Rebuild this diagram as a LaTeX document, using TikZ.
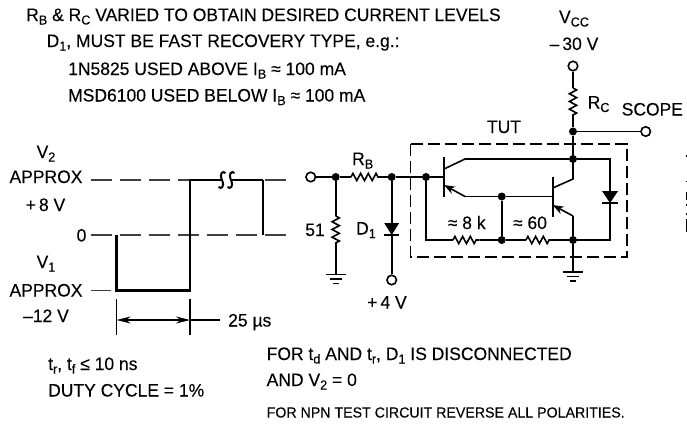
\documentclass[tikz,border=0pt]{standalone}
\usepackage{fontspec}
\setmainfont[FakeStretch=0.972,FakeBold=0.12]{Liberation Sans}
\usetikzlibrary{calc, arrows.meta, decorations.pathmorphing}
\newcommand{\dn}[1]{\raisebox{-3.5pt}{\fontsize{13}{13}\selectfont #1}}
\newcommand{\gndbars}[1]{
  \draw[wire] ($(#1)+(-10,0)$) -- ($(#1)+(10,0)$);
  \draw[wire] ($(#1)+(-6,4.5)$) -- ($(#1)+(6,4.5)$);
  \draw[wire] ($(#1)+(-3,9)$) -- ($(#1)+(3,9)$);
}
\newcommand{\brk}[1]{
  \draw[line width=2pt] ($(#1)+(3.5,-7)$) .. controls ($(#1)+(1,-9.5)$) and ($(#1)+(-3,-7)$) .. (#1) .. controls ($(#1)+(3,7)$) and ($(#1)+(-1,9.5)$) .. ($(#1)+(-3.5,7)$);
}
\tikzset{
  wire/.style={line width=1.6pt},
  thin wire/.style={line width=1.1pt},
  res/.style={wire,decorate,decoration={zigzag,amplitude=3.6pt,segment length=7.7pt}},
  guide/.style={line width=1.2pt,black!75,dash pattern=on 21pt off 8pt},
  pulse/.style={line width=2.7pt,line join=miter},
  dot/.style={circle,fill=black,inner sep=0pt,minimum size=8pt},
  term/.style={circle,draw,line width=1.6pt,fill=white,inner sep=0pt,minimum size=9.5pt},
  lbl/.style={anchor=base west,inner sep=0pt,font=\fontsize{18}{18}\selectfont},
  lblc/.style={anchor=base,inner sep=0pt,font=\fontsize{18}{18}\selectfont},
  small/.style={anchor=base west,inner sep=0pt,font=\fontsize{14.6}{14.6}\selectfont}
}
\begin{document}
\begin{tikzpicture}[x=1pt,y=-1pt]
  \useasboundingbox (0,0) rectangle (687,423);

  % text at the top
  \node[lbl] (note1) at (26,21) {R\dn{B} \& R\dn{C} VARIED TO OBTAIN DESIRED CURRENT LEVELS};
  \node[lbl] (note2) at (46.5,47) {D\dn{1}, MUST BE FAST RECOVERY TYPE, e.g.:};
  \node[lbl] (note3) at (68,75) {1N5825 USED ABOVE I\dn{B} ≈ 100 mA};
  \node[lbl] (note4) at (68,101.5) {MSD6100 USED BELOW I\dn{B} ≈ 100 mA};

  % waveform
  \node[lblc] (v2) at (46,158) {V\dn{2}};
  \node[lblc] (approx2) at (46,183) {APPROX};
  \node[lblc] (plus8) at (45.5,211) {+\,8 V};
  \node[lblc] (zero) at (81.5,241.5) {0};
  \node[lblc] (v1) at (46,268) {V\dn{1}};
  \node[lblc] (approx1) at (46,296.5) {APPROX};
  \node[lblc] (minus12) at (46,322) {–12 V};

  \coordinate (hi-l) at (90.5,180);
  \coordinate (hi-r) at (287.5,180);
  \coordinate (mid-l) at (90.5,235);
  \coordinate (mid-r) at (287.5,235);
  \coordinate (lo-l) at (90.5,290.5);
  \coordinate (lo-r) at (111,290.5);
  \draw[guide] (hi-l) -- (hi-r);
  \draw[guide] (mid-l) -- (mid-r);
  \draw[thin wire,black!75] (lo-l) -- (lo-r);

  \coordinate (p0) at (116.7,235);
  \coordinate (p1) at (116.7,290.5);
  \coordinate (p2) at (190,290.5);
  \coordinate (p3) at (190,180);
  \coordinate (p4) at (222,180);
  \coordinate (p5) at (231,180);
  \coordinate (p6) at (263.3,180);
  \coordinate (p7) at (263.3,235);
  \fill[white] (p4) ++(0,-5) rectangle ($(p5)+(0,5)$);
  \draw[pulse] (p0) -- (p1) -- (p2) -- (p3) -- (p4);
  \draw[pulse] (p5) -- (p6);
  \draw[line width=2pt] (p6) -- (p7);
  \brk{p4}
  \brk{p5}

  % 25 us dimension
  \coordinate (dim-a) at (116.7,298.5);
  \coordinate (dim-b) at (116.7,334.5);
  \coordinate (dim-c) at (190,298.5);
  \coordinate (dim-d) at (190,334.5);
  \coordinate (dim-l) at (116.7,320);
  \coordinate (dim-r) at (190,320);
  \coordinate (dim-e) at (220,320);
  \draw[thin wire] (dim-a) -- (dim-b);
  \draw[thin wire] (dim-c) -- (dim-d);
  \draw[thin wire,{Stealth[length=14pt,width=7pt]}-{Stealth[length=14pt,width=7pt]}] (dim-l) -- (dim-r);
  \draw[thin wire] (dim-r) -- (dim-e);
  \node[lbl] (width) at (228,326.5) {25 µs};

  \node[lbl] (rise) at (48,370) {t\dn{r}, t\dn{f} ≤ 10 ns};
  \node[lbl] (duty) at (48,396.5) {DUTY CYCLE = 1\%};

  % input network
  \node[term] (in) at (310.7,177) {};
  \node[dot] (j-in) at (335.7,177) {};
  \node[dot] (j-rb) at (391.7,177) {};
  \node[dot] (j-base) at (426,177) {};
  \coordinate (rb-a) at (351,177);
  \coordinate (rb-b) at (378,177);
  \coordinate (r51-a) at (335.7,216);
  \coordinate (r51-b) at (335.7,243);
  \coordinate (gnd-in) at (335.7,274.5);
  \coordinate (d1-a) at (391.7,223);
  \coordinate (d1-k) at (391.7,235);
  \node[term] (plus4t) at (391.7,280) {};
  \draw[wire] (in) -- (j-in) -- (rb-a);
  \draw[res] (rb-a) -- (rb-b);
  \draw[wire] (rb-b) -- (j-rb) -- (j-base);
  \draw[wire] (j-in) -- (r51-a);
  \draw[res] (r51-a) -- (r51-b);
  \draw[wire] (r51-b) -- (gnd-in);
  \gndbars{gnd-in}
  \draw[wire] (j-rb) -- (d1-a);
  \fill ($(d1-a)+(-7.5,0)$) -- ($(d1-a)+(7.5,0)$) -- (d1-k) -- cycle;
  \draw[wire] ($(d1-k)+(-7.5,0)$) -- ($(d1-k)+(7.5,0)$);
  \draw[wire] (d1-k) -- (plus4t);
  \node[lblc] (rb) at (362.7,165) {R\dn{B}};
  \node[lblc] (r51) at (315,236) {51};
  \node[lblc] (d1) at (366,234.5) {D\dn{1}};
  \node[lblc] (plus4) at (387,308.5) {+\,4 V};

  % supply and scope
  \node[lblc] (vcc) at (574,23) {V\dn{CC}};
  \node[lblc] (minus30) at (574,50) {–\,30 V};
  \node[term] (vcct) at (573,66) {};
  \coordinate (rc-a) at (573,88);
  \coordinate (rc-b) at (573,115);
  \node[dot] (j-scope) at (573,131.5) {};
  \node[term] (scopet) at (645.7,131.5) {};
  \node[dot] (j-c) at (573,159) {};
  \draw[wire] (vcct) -- (rc-a);
  \draw[res] (rc-a) -- (rc-b);
  \draw[wire] (rc-b) -- (j-scope) -- (j-c);
  \draw[wire] (j-scope) -- (scopet);
  \node[lbl] (rc) at (587.5,108.5) {R\dn{C}};
  \node[lbl] (scope) at (621.5,115.5) {SCOPE};
  \node[lblc] (tut) at (504,133) {TUT};

  % device under test
  \draw[line width=1.5pt,dash pattern=on 12pt off 5pt] (410.7,144) rectangle (627,257);

  \coordinate (q1-top) at (444,157);
  \coordinate (q1-bot) at (444,197);
  \coordinate (q1-b) at (444,177);
  \coordinate (q1-c) at (444,169);
  \coordinate (q1-c2) at (465,159);
  \coordinate (q1-e) at (444,185);
  \coordinate (q1-e2) at (465,196.5);
  \node[dot] (j-e) at (501.7,196.5) {};
  \coordinate (q2-top) at (552.7,176.5);
  \coordinate (q2-bot) at (552.7,216.5);
  \coordinate (q2-b) at (552.7,196.5);
  \coordinate (q2-c) at (552.7,188);
  \coordinate (q2-c2) at (573,179);
  \coordinate (q2-e) at (552.7,205);
  \coordinate (q2-e2) at (573,216);
  \node[dot] (j-r) at (501.7,240) {};
  \node[dot] (j-g) at (573,240) {};
  \coordinate (tr) at (610,159);
  \coordinate (br) at (610,240);
  \coordinate (bl) at (426,240);
  \coordinate (r8-a) at (453,240);
  \coordinate (r8-b) at (479.5,240);
  \coordinate (r60-a) at (526,240);
  \coordinate (r60-b) at (552,240);
  \coordinate (d2-a) at (610,191);
  \coordinate (d2-k) at (610,203);
  \coordinate (gnd-out) at (573,272);

  \draw[line width=1.9pt] (q1-top) -- (q1-bot);
  \draw[line width=1.9pt] (q2-top) -- (q2-bot);
  \draw[wire] (j-base) -- (q1-b);
  \draw[wire] (q1-c) -- (q1-c2) -- (j-c);
  \draw[wire] (j-c) -- (tr) -- (d2-a);
  \draw[wire,{Stealth[length=11pt,width=8pt]}-] (q1-e) -- (q1-e2);
  \draw[wire] (q1-e2) -- (j-e) -- (q2-b);
  \draw[wire] (q2-c) -- (q2-c2) -- (j-c);
  \draw[wire,{Stealth[length=11pt,width=8pt]}-] (q2-e) -- (q2-e2);
  \draw[wire] (q2-e2) -- (j-g);
  \draw[wire] (j-e) -- (j-r);
  \draw[wire] (j-base) -- (bl) -- (r8-a);
  \draw[res] (r8-a) -- (r8-b);
  \draw[wire] (r8-b) -- (j-r) -- (r60-a);
  \draw[res] (r60-a) -- (r60-b);
  \draw[wire] (r60-b) -- (j-g) -- (br) -- (d2-k);
  \fill ($(d2-a)+(-8,0)$) -- ($(d2-a)+(8,0)$) -- (d2-k) -- cycle;
  \draw[wire] ($(d2-k)+(-8,0)$) -- ($(d2-k)+(8,0)$);
  \draw[wire] (j-g) -- (gnd-out);
  \gndbars{gnd-out}
  \node[lblc] (r8) at (466.7,229) {≈ 8 k};
  \node[lblc] (r60) at (530,229) {≈ 60};

  % notes at the bottom
  \node[lbl] (for1) at (266.5,360) {FOR t\dn{d} AND t\dn{r}, D\dn{1} IS DISCONNECTED};
  \node[lbl] (for2) at (266.5,386) {AND V\dn{2} = 0};
  \node[small] (for3) at (266.5,417.5) {FOR NPN TEST CIRCUIT REVERSE ALL POLARITIES.};

  % scraps at the right edge
  \fill (685.5,155) rectangle (687,156.5);
  \fill (685.5,180.5) rectangle (687,182);
  \fill (685.5,192) rectangle (687,200);
  \fill (685.5,204) rectangle (687,206);
  \fill (685.5,213) rectangle (687,215);
  \fill (685.5,219) rectangle (687,232);
\end{tikzpicture}
\end{document}
